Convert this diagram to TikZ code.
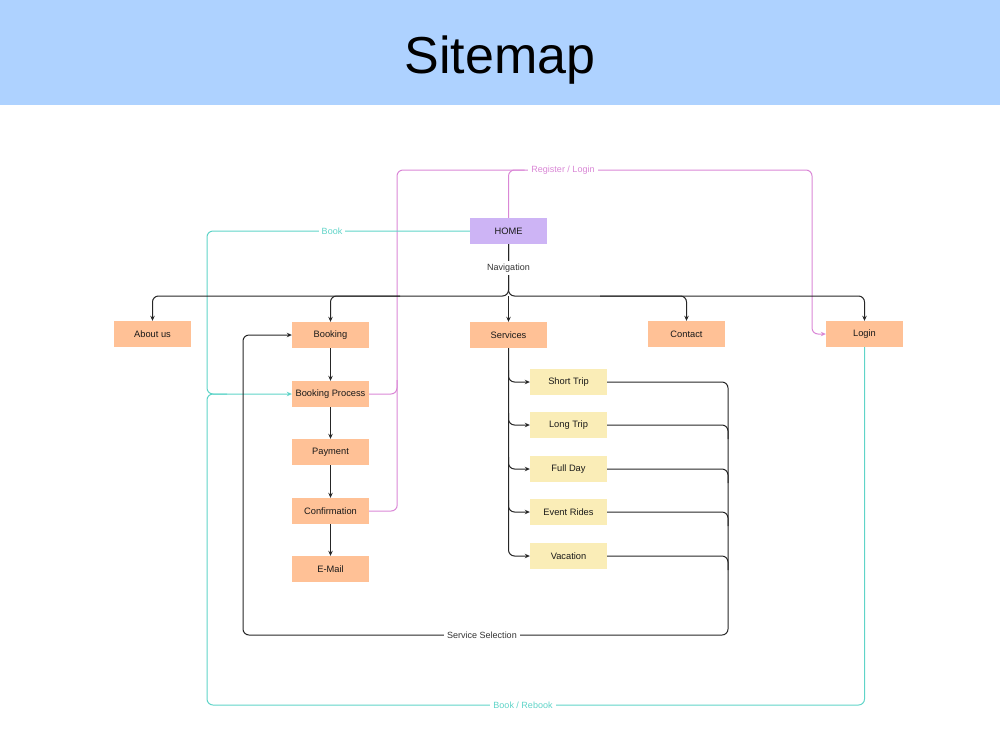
\documentclass[tikz,border=0pt]{standalone}
\usepackage{fontspec}
\setmainfont{Liberation Sans}
\usetikzlibrary{arrows.meta,calc}
\definecolor{hdr}{RGB}{174,210,255}
\definecolor{homec}{RGB}{205,180,245}
\definecolor{orangec}{RGB}{255,193,150}
\definecolor{yellowc}{RGB}{250,237,183}
\definecolor{tealc}{RGB}{95,212,200}
\definecolor{pinkc}{RGB}{218,135,214}
\begin{document}
\begin{tikzpicture}[x=1pt,y=-1pt,
  box/.style={minimum width=77pt,minimum height=26pt,inner sep=0pt,font=\fontsize{9.3}{10}\selectfont,text=black!90},
  pagebox/.style={box,fill=orangec},
  subbox/.style={box,fill=yellowc},
  homebox/.style={box,fill=homec},
  link/.style={draw=black!85,line width=1pt,rounded corners=6pt},
  arr/.style={-{Stealth[length=5pt,width=4.5pt]}},
  lbl/.style={fill=white,inner sep=3pt,font=\fontsize{9}{10}\selectfont,text=black!80}]
\useasboundingbox (0,0) rectangle (1000,750);
\fill[hdr] (0,0) rectangle (1000,105);
\node[font=\fontsize{52}{60}\selectfont,anchor=base] (title) at (500,73) {Sitemap};

% nodes
\node[homebox] (home) at (508.5,231) {HOME};
\node[pagebox] (about) at (152.5,334) {About us};
\node[pagebox] (booking) at (330.5,335) {Booking};
\node[pagebox] (services) at (508.5,335) {Services};
\node[pagebox] (contact) at (686.5,334) {Contact};
\node[pagebox] (login) at (864.5,334) {Login};
\node[pagebox] (bp) at (330.5,394) {Booking Process};
\node[pagebox] (pay) at (330.5,452) {Payment};
\node[pagebox] (conf) at (330.5,511) {Confirmation};
\node[pagebox] (mail) at (330.5,569) {E-Mail};
\node[subbox] (short) at (568.5,382) {Short Trip};
\node[subbox] (long) at (568.5,425) {Long Trip};
\node[subbox] (full) at (568.5,469) {Full Day};
\node[subbox] (event) at (568.5,512) {Event Rides};
\node[subbox] (vac) at (568.5,556) {Vacation};

\coordinate (bus) at (508.5,296);
\coordinate (ssR) at (728,635);
\coordinate (ssL) at (243,635);
\coordinate (tl) at (207,394);
\coordinate (bl) at (207,705);
\coordinate (pl) at (397,170);
\coordinate (pr) at (812,170);

% pink register/login
\draw[link,draw=pinkc,arr] (bp.east) -| (pl) -- (pr) |- (login.west);
\draw[link,draw=pinkc] (home.north) |- ($(home.north |- pr)+(16,0)$);
\draw[link,draw=pinkc] (conf.east) -| ($(bp.east)+(28,-14)$);
\node[lbl,text=pinkc] (rl) at (563,170) {Register / Login};

% teal book
\draw[link,draw=tealc,arr] (home.west) -| (tl) -- (bp.west);
\draw[link,draw=tealc] (login.south) |- (bl) -- (tl) -- ($(tl)+(20,0)$);
\node[lbl,text=tealc] (bk) at (332,231) {Book};
\node[lbl,text=tealc] (rb) at (523,705) {Book / Rebook};

% navigation
\draw[link,arr] (home.south) -- (bus) -| (about.north);
\draw[link,arr] (home.south) -- (bus) -| (login.north);
\draw[link,arr] (400,296) -| (booking.north);
\draw[link,arr] (600,296) -| (contact.north);
\draw[link,arr] (bus) -- (services.north);
\node[lbl] (nav) at (508.5,268) {Navigation};

% booking flow
\draw[link,arr] (booking) -- (bp);
\draw[link,arr] (bp) -- (pay);
\draw[link,arr] (pay) -- (conf);
\draw[link,arr] (conf) -- (mail);

% services
\draw[link,arr] (services.south) |- (vac.west);
\foreach \s in {long,full,event,vac}{
  \draw[link] (\s.east) -| ($(ssR |- \s.east)+(0,14)$);
}
\foreach \s in {short,long,full,event}{
  \draw[link,arr] ($(services.south |- \s.west)+(0,-12)$) |- (\s.west);
}
\draw[link,arr] (short.east) -| (ssR) -- (ssL) |- (booking.west);
\node[lbl] (ssel) at (482,635) {Service Selection};
\end{tikzpicture}
\end{document}
